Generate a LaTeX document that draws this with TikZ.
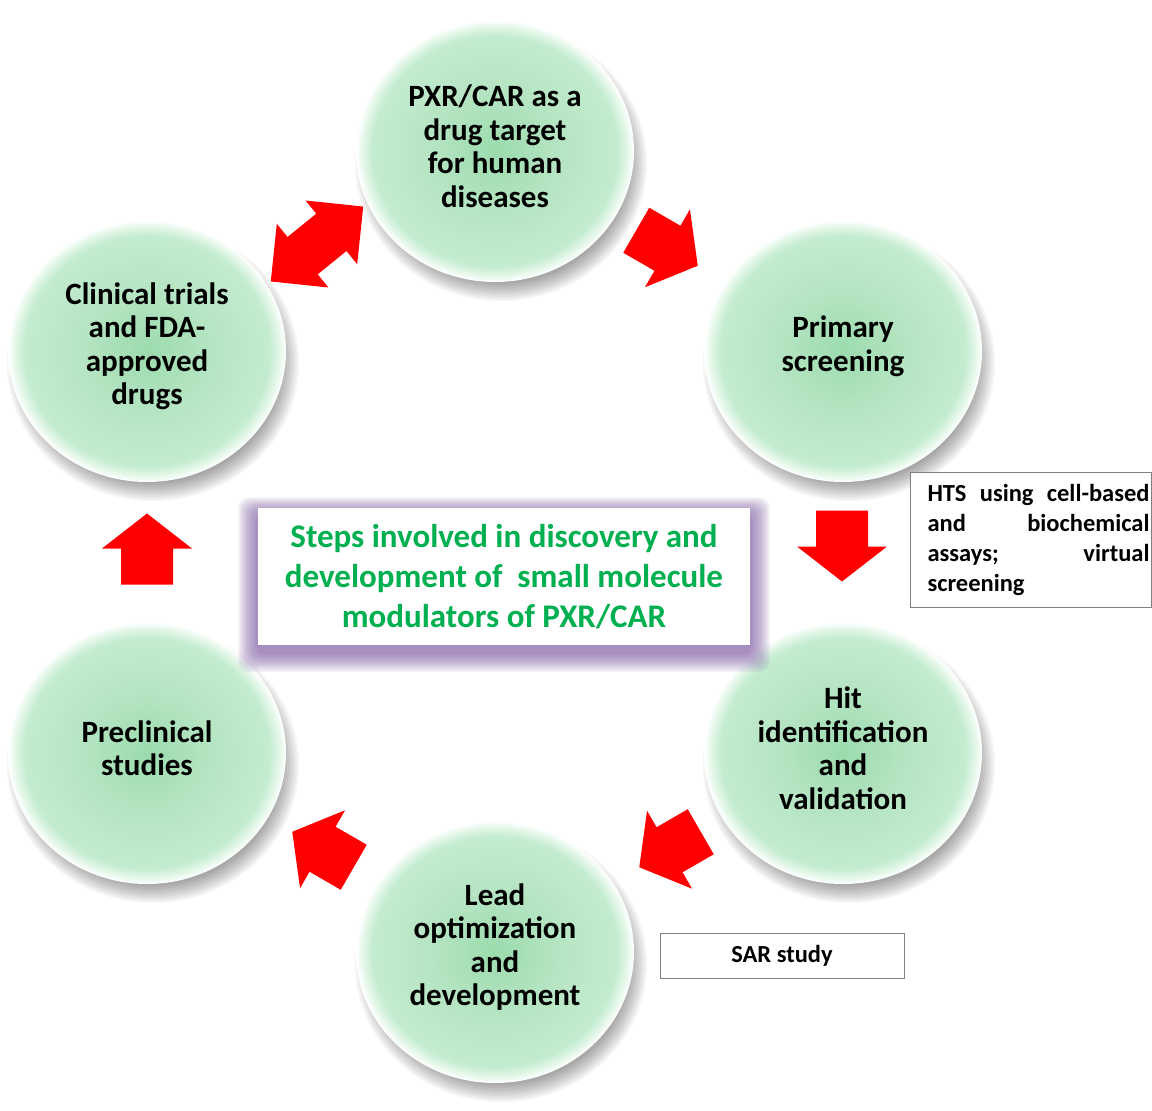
\documentclass[tikz,border=0pt]{standalone}
\usepackage{fontspec}
\setmainfont{Carlito}
\usetikzlibrary{calc}

\definecolor{discC}{RGB}{156,219,174}
\definecolor{discM}{RGB}{182,229,195}
\definecolor{discE}{RGB}{196,236,207}
\definecolor{discR}{RGB}{228,247,233}
\definecolor{titlegreen}{RGB}{0,176,80}
\definecolor{glowpurple}{RGB}{120,85,160}
\definecolor{arrowred}{RGB}{255,0,0}
\definecolor{framegray}{RGB}{128,128,128}

% soft green disc with a pale rim
\pgfdeclareradialshading{discshade}{\pgfpoint{0bp}{0bp}}{%
  color(0bp)=(discC); color(12bp)=(discM); color(22bp)=(discE);
  color(23.8bp)=(discR); color(25bp)=(white); color(50bp)=(white)}

% shadow + disc centred on a named coordinate
\newcommand\greendisc[1]{%
  \foreach \k in {0,...,9}{%
    \fill[black, opacity=0.04] ($(#1)+(6,12)$) ellipse ({128+2*\k} and {120+2*\k});}
  \shade[shading=discshade] (#1) ellipse (139 and 131);
}

\tikzset{
  steptext/.style={align=center, font=\fontsize{31}{33.5}\selectfont\bfseries,
    text=black, inner sep=0pt},
  notebox/.style={draw=framegray, line width=1pt, fill=white, inner sep=0pt,
    font=\fontsize{24.5}{30}\selectfont\bfseries, text=black},
  titletext/.style={fill=white, inner sep=0pt, minimum width=492pt, minimum height=137pt,
    align=center, font=\fontsize{33}{40}\selectfont\bfseries, text=titlegreen},
  pics/onearrow/.style={code={%
    \fill[arrowred] (-35.5,-26) -- (0.5,-26) -- (0.5,-45) -- (35.5,0)
      -- (0.5,45) -- (0.5,26) -- (-35.5,26) -- cycle;}},
  pics/twoarrow/.style={code={%
    \fill[arrowred] (-59.5,0) -- (-18.5,-41) -- (-18.5,-24) -- (18.5,-24)
      -- (18.5,-41) -- (59.5,0) -- (18.5,41) -- (18.5,24) -- (-18.5,24)
      -- (-18.5,41) -- cycle;}}
}

\begin{document}
\begin{tikzpicture}[x=1pt,y=-1pt]
\useasboundingbox (0,0) rectangle (1152,1111);
\fill[white] (0,0) rectangle (1152,1111);

% disc centres
\coordinate (top)  at (495,151);
\coordinate (prim) at (843,351);
\coordinate (hit)  at (843,753);
\coordinate (lead) at (495,952);
\coordinate (pre)  at (147,753);
\coordinate (clin) at (147,351);

\greendisc{top}
\greendisc{prim}
\greendisc{hit}
\greendisc{lead}
\greendisc{pre}
\greendisc{clin}

\node[steptext] (topT)  at ($(top)+(0,-5)$)  {PXR/CAR as a\\drug target\\for human\\diseases};
\node[steptext] (primT) at ($(prim)+(0,-5)$) {Primary\\screening};
\node[steptext] (hitT)  at ($(hit)+(0,-5)$)  {Hit\\identification\\and\\validation};
\node[steptext] (leadT) at ($(lead)+(0,-5)$) {Lead\\optimization\\and\\development};
\node[steptext] (preT)  at ($(pre)+(0,-5)$)  {Preclinical\\studies};
\node[steptext] (clinT) at ($(clin)+(0,-5)$) {Clinical trials\\and FDA-\\approved\\drugs};

% central title with purple glow, heavier below
\coordinate (mid) at (504,576.5);
\foreach \k in {1,...,11}{%
  \fill[glowpurple, opacity=0.085, rounded corners=10pt]
    ($(mid)+(-246-1.8*\k,-68.5-1.6*\k+7)$) rectangle ($(mid)+(246+1.8*\k,68.5+1.8*\k+7)$);}
\node[titletext] (title) at (mid)
  {Steps involved in discovery and\\development of\ \ small molecule\\modulators of PXR/CAR};

% cycle arrows
\pic[rotate=-30] at ($(top)!0.5!(prim)+(-2,-3)$) {onearrow};
\pic[rotate=-90] at ($(prim)!0.5!(hit)+(-1,-6)$) {onearrow};
\pic[rotate=210] at ($(hit)!0.5!(lead)+(1,-3)$) {onearrow};
\pic[rotate=150] at ($(lead)!0.5!(pre)+(2,-3)$) {onearrow};
\pic[rotate=90]  at ($(pre)!0.5!(clin)+(0,-3)$) {onearrow};
\pic[rotate=39]  at ($(clin)!0.5!(top)+(-4,-7)$) {twoarrow};

% side notes
\node[notebox, anchor=north west, minimum width=241pt, minimum height=135pt] (hts) at (910,472)
  {\hspace{15pt}\parbox{222pt}{%
    \makebox[222pt][s]{HTS using cell-based}\\
    \makebox[222pt][s]{and biochemical}\\
    \makebox[222pt][s]{assays; virtual}\\
    screening}\hspace{4pt}};
\node[notebox, minimum width=244pt, minimum height=45pt] (sar) at (782,955.5) {SAR study};
\end{tikzpicture}
\end{document}
